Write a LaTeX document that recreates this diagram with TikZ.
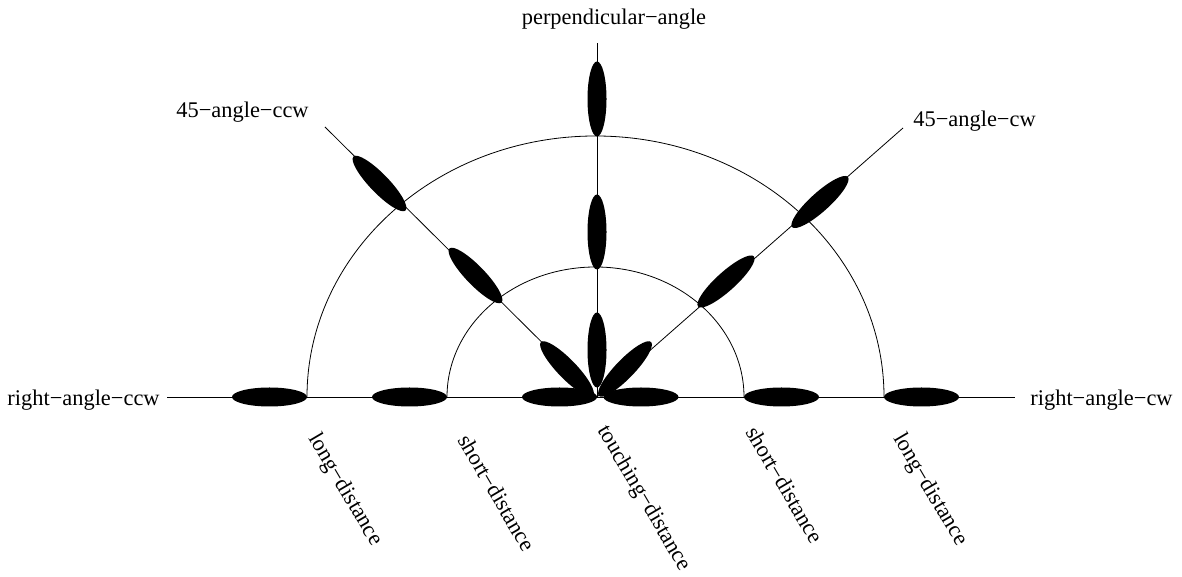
\documentclass[tikz,border=0pt]{standalone}
\usepackage{fontspec}
\setmainfont{Liberation Serif}
\usetikzlibrary{shapes.geometric}

\begin{document}
\begin{tikzpicture}[x=1pt, y=1pt, line width=0.8pt,
    every node/.style={font=\fontsize{22.4}{27}\selectfont, inner sep=0pt},
    blob/.style={ellipse, fill=black, minimum width=75pt, minimum height=19pt},
    dist/.style={anchor=base west, rotate=-59.5}]
    \useasboundingbox (0,0) rectangle (1182,577);
    % centre and free ends of the guide lines
    \coordinate (o) at (597,180);
    \coordinate (hl) at (167,180);
    \coordinate (hr) at (1015,180);
    \coordinate (vt) at (597,534);
    \coordinate (dl) at (325,450);
    \coordinate (dr) at (903,449);
    \coordinate (outl) at (307,180);
    \coordinate (innl) at (447,180);
    \draw (hl) -- (hr);
    \draw (o) -- (vt);
    \draw (o) -- (dl);
    \draw (o) -- (dr);
    \draw (outl) arc[start angle=180, end angle=0, x radius=288.5, y radius=261];
    \draw (innl) arc[start angle=180, end angle=0, x radius=148.5, y radius=130];
    % ellipses on the horizontal line
    \node[blob] (hlong1) at (269.5,180) {};
    \node[blob] (hshort1) at (409.5,180) {};
    \node[blob] (htouch1) at (559.5,180) {};
    \node[blob] (htouch2) at (641,180) {};
    \node[blob] (hshort2) at (781.5,180) {};
    \node[blob] (hlong2) at (921.5,180) {};
    % ellipses on the vertical line
    \node[blob, rotate=90] (vlong) at (597,478) {};
    \node[blob, rotate=90] (vshort) at (597,345) {};
    \node[blob, rotate=90] (vtouch) at (597,227) {};
    % ellipses on the 45 lines
    \node[blob, rotate=134] (llong) at (379.5,393.5) {};
    \node[blob, rotate=134] (lshort) at (475.5,301.5) {};
    \node[blob, rotate=134] (ltouch) at (567,208) {};
    \node[blob, rotate=42] (rlong) at (820,375) {};
    \node[blob, rotate=42] (rshort) at (726,295.5) {};
    \node[blob, rotate=46] (rtouch) at (625,208) {};
    % angle labels
    \node[anchor=base east] (ccw) at (160,171) {right−angle−ccw};
    \node[anchor=base west] (cw) at (1030,171) {right−angle−cw};
    \node[anchor=base] (perp) at (614,552) {perpendicular−angle};
    \node[anchor=base west] (ccw45) at (176,459) {45−angle−ccw};
    \node[anchor=base west] (cw45) at (913,450) {45−angle−cw};
    % distance labels
    \node[dist] (dlong1) at (308,139) {long−distance};
    \node[dist] (dshort1) at (457,137) {short−distance};
    \node[dist] (dtouch) at (597,147) {touching−distance};
    \node[dist] (dshort2) at (745,145) {short−distance};
    \node[dist] (dlong2) at (893,139) {long−distance};
\end{tikzpicture}
\end{document}
